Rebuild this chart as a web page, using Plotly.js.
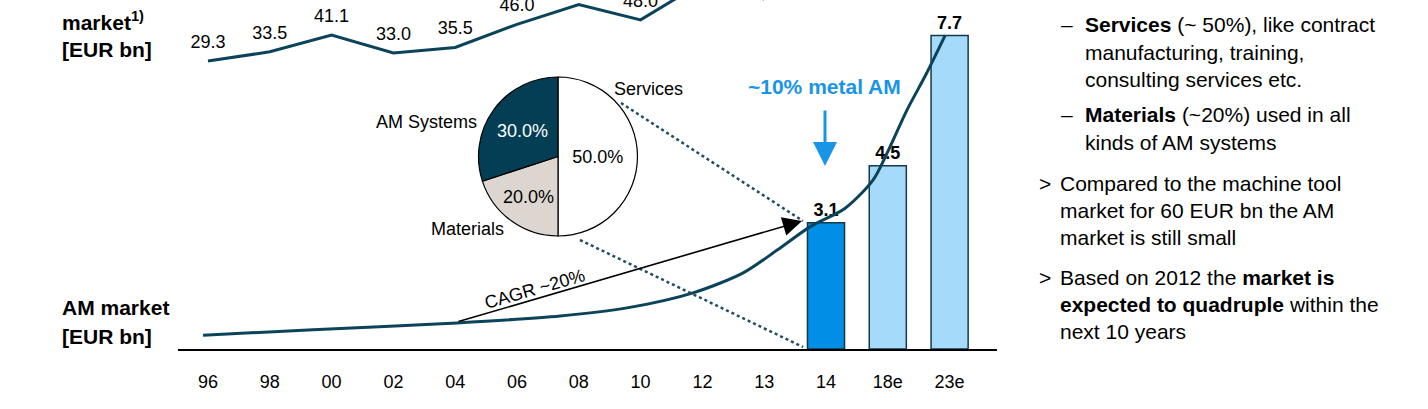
<!DOCTYPE html>
<html>
<head>
<meta charset="utf-8">
<script src="https://cdn.plot.ly/plotly-3.0.1.min.js"></script>
<style>html,body{margin:0;padding:0;background:#fff;}#chart{width:1428px;height:409px;}</style>
</head>
<body>
<div id="chart"></div>
<script>
// ---------- data ----------
const categories = ['96','98','00','02','04','06','08','10','12','13','14','18e','23e'];
const machineToolCategories = ['96','98','00','02','04','06','08','10','12','13'];
const machineToolValues = [29.3, 33.5, 41.1, 33.0, 35.5, 46.0, 55.0, 48.0, 65.0, 57.5];
const amBarCategories = ['14','18e','23e'];
const amBarValues = [3.1, 4.5, 7.7];
// AM market trend curve (position in category units, value in EUR bn)
const amCurvePos = [-0.08, 1.70, 4.03, 5.70, 6.78, 7.85, 8.66, 9.21, 9.74, 10.31, 10.76, 10.99, 11.31, 11.63, 11.93];
const amCurveValues = [0.34, 0.47, 0.64, 0.81, 1.01, 1.38, 1.87, 2.43, 3.00, 3.46, 4.15, 4.82, 5.87, 6.78, 7.71];
const pieLabels = ['Services', 'Materials', 'AM Systems'];
const pieValues = [50, 20, 30];

// ---------- layout helpers (pixel -> paper) ----------
const W = 1428, H = 409;
const M = {l: 178, r: 431, t: 0, b: 60};
const PW = W - M.l - M.r, PH = H - M.t - M.b;
const X = px => (px - M.l) / PW;
const Y = py => (H - M.b - py) / PH;

const FONT = 'Liberation Sans, Arial, sans-serif';
const NAVY = '#0B4459';
const idx = c => categories.indexOf(c);

const traces = [
  {
    type: 'bar',
    x: amBarCategories.map(idx),
    y: amBarValues,
    width: 0.6,
    marker: {color: ['#008EE6', '#A6DAFA', '#A6DAFA'], line: {color: '#16394A', width: 1.5}},
    text: amBarValues.map(v => '<b>' + v.toFixed(1) + '</b>'),
    textposition: 'outside',
    textfont: {family: FONT, size: 18, color: '#000'},
    cliponaxis: false,
    hoverinfo: 'skip'
  },
  {
    type: 'scatter',
    mode: 'lines',
    x: amCurvePos,
    y: amCurveValues,
    line: {color: NAVY, width: 3, shape: 'spline', smoothing: 0.8},
    hoverinfo: 'skip'
  },
  {
    type: 'scatter',
    mode: 'lines+markers+text',
    x: machineToolCategories.map(idx),
    y: machineToolValues,
    yaxis: 'y2',
    line: {color: NAVY, width: 3},
    marker: {size: 12, color: 'rgba(0,0,0,0)'},
    text: machineToolValues.map(v => v.toFixed(1)),
    textposition: 'top center',
    textfont: {family: FONT, size: 18, color: '#000'},
    cliponaxis: false,
    hoverinfo: 'skip'
  },
  {
    type: 'pie',
    labels: pieLabels,
    values: pieValues,
    sort: false,
    direction: 'clockwise',
    rotation: 0,
    domain: {x: [X(478), X(638)], y: [Y(236), Y(77)]},
    marker: {colors: ['#FFFFFF', '#DDD6D0', '#033E54'], line: {color: '#000', width: 1.2}},
    textinfo: 'percent',
    texttemplate: '%{percent:.1%}',
    textposition: 'inside',
    insidetextorientation: 'horizontal',
    insidetextfont: {family: FONT, size: 18, color: ['#000', '#000', '#fff']},
    hoverinfo: 'skip',
    showlegend: false
  }
];

const ann = [];
function txt(text, px, py, opts) {
  ann.push(Object.assign({
    text: text, xref: 'paper', yref: 'paper', x: X(px), y: Y(py),
    xanchor: 'left', yanchor: 'middle', showarrow: false,
    font: {family: FONT, size: 21, color: '#000'}
  }, opts || {}));
}
// left labels
txt('<b>market<sup>1)</sup></b>', 60, 21);
txt('<b>[EUR bn]</b>', 60, 49);
txt('<b>AM market</b>', 60, 307);
txt('<b>[EUR bn]</b>', 60, 336);
// pie outer labels
const f18 = {family: FONT, size: 18, color: '#000'};
txt('Services', 648, 89, {xanchor: 'center', font: f18});
txt('AM Systems', 426, 122, {xanchor: 'center', font: f18});
txt('Materials', 467, 229, {xanchor: 'center', font: f18});
// CAGR label
txt('CAGR ~20%', 535, 289, {xanchor: 'center', textangle: -16, font: f18});
// metal AM label
txt('<b>~10% metal AM</b>', 824, 87, {xanchor: 'center', font: {family: FONT, size: 21, color: '#1A94E6'}});
// right-hand text
txt('–', 1059, 25);
txt('<b>Services</b> (~ 50%), like contract', 1083, 25);
txt('manufacturing, training,', 1083, 52);
txt('consulting services etc.', 1083, 79);
txt('–', 1059, 114);
txt('<b>Materials</b> (~20%) used in all', 1083, 114);
txt('kinds of AM systems', 1083, 142);
txt('>', 1037, 183);
txt('Compared to the machine tool', 1058, 183);
txt('market for 60 EUR bn the AM', 1058, 210);
txt('market is still small', 1058, 237);
txt('>', 1037, 277);
txt('Based on 2012 the <b>market is</b>', 1058, 277);
txt('<b>expected to quadruple</b> within the', 1058, 304);
txt('next 10 years', 1058, 331);

// arrows
ann.push({
  text: '', xref: 'paper', yref: 'paper', x: X(802), y: Y(221),
  ax: 457 - 802, ay: 322 - 221, showarrow: true,
  arrowhead: 2, arrowsize: 2.4, arrowwidth: 1.6, arrowcolor: '#000', standoff: 0, startstandoff: 0
});
ann.push({
  text: '', xref: 'paper', yref: 'paper', x: X(825), y: Y(166),
  ax: 0, ay: 109 - 166, showarrow: true,
  arrowhead: 2, arrowsize: 1.6, arrowwidth: 3, arrowcolor: '#1A94E6', standoff: 0, startstandoff: 0
});

const shapes = [
  {type: 'line', xref: 'paper', yref: 'paper', x0: X(621), y0: Y(103), x1: X(803), y1: Y(221),
   line: {color: '#1F4E63', width: 2.5, dash: 'dot'}},
  {type: 'line', xref: 'paper', yref: 'paper', x0: X(580), y0: Y(240), x1: X(803), y1: Y(347),
   line: {color: '#1F4E63', width: 2.5, dash: 'dot'}}
];

const layout = {
  width: W, height: H,
  margin: M,
  paper_bgcolor: '#fff', plot_bgcolor: 'rgba(0,0,0,0)',
  showlegend: false,
  font: {family: FONT, size: 18, color: '#000'},
  xaxis: {
    range: [(M.l - 208) / 61.8, (M.l + PW - 208) / 61.8],
    tickvals: categories.map((c, i) => i),
    ticktext: categories,
    showgrid: false, zeroline: false,
    showline: true, linecolor: '#000', linewidth: 2,
    ticks: '', ticklabelstandoff: 15,
    tickfont: {family: FONT, size: 18, color: '#000'},
    fixedrange: true
  },
  yaxis: {
    range: [0, PH / 40.7],
    visible: false, showgrid: false, zeroline: false, fixedrange: true
  },
  yaxis2: {
    overlaying: 'y',
    range: [(125.5 - PH) / 2.2, 125.5 / 2.2],
    visible: false, showgrid: false, zeroline: false, fixedrange: true
  },
  bargap: 0,
  annotations: ann,
  shapes: shapes
};

Plotly.newPlot('chart', traces, layout, {displayModeBar: false, staticPlot: true});
</script>
</body>
</html>
